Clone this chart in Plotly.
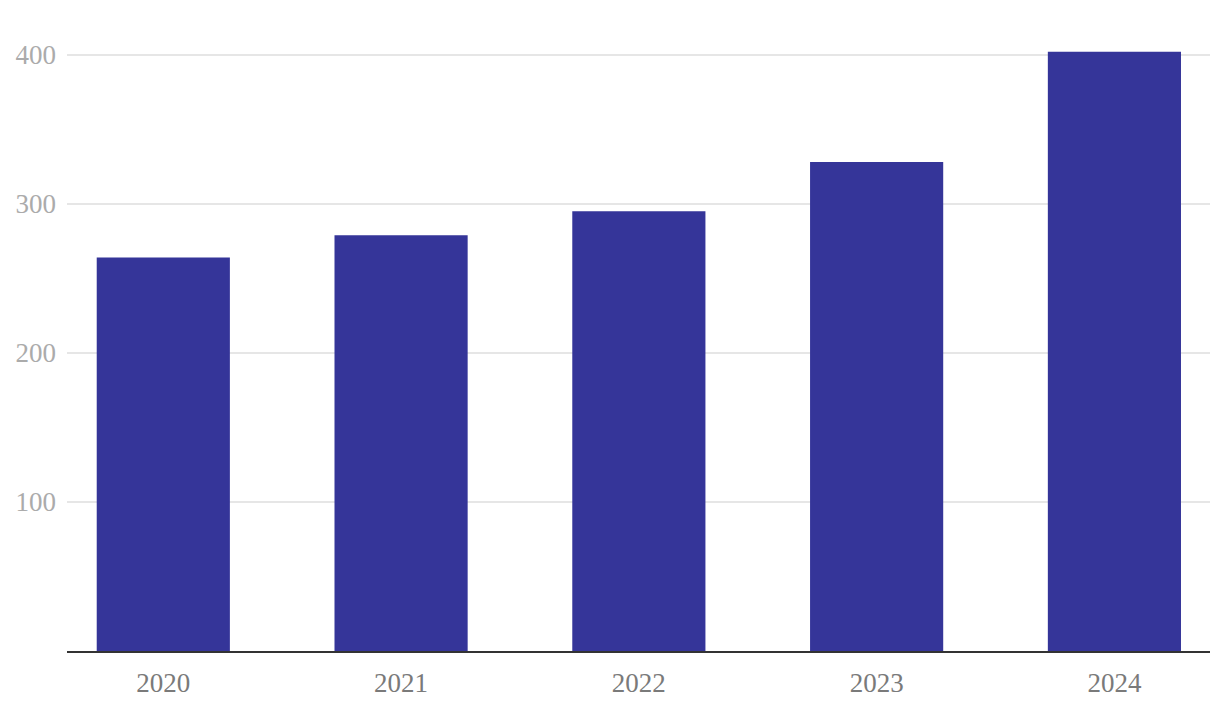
import plotly.graph_objects as go

# Data
years = ["2020", "2021", "2022", "2023", "2024"]
values = [264, 279, 295, 328, 402]
y_ticks = [100, 200, 300, 400]

fig = go.Figure()

fig.add_trace(go.Bar(
    x=years,
    y=values,
    width=0.56,
    marker=dict(color="#353599", line=dict(width=0)),
    hoverinfo="x+y",
))

# margins account for the 8px default body margin of the page
fig.update_layout(
    width=1220,
    height=712,
    margin=dict(l=59, r=18, t=17, b=69),
    plot_bgcolor="white",
    paper_bgcolor="white",
    showlegend=False,
    font=dict(family="Liberation Serif, DejaVu Serif, serif"),
)

fig.update_xaxes(
    range=[-0.405, 4.402],
    automargin=False,
    showline=True,
    linecolor="#333333",
    linewidth=2,
    showgrid=False,
    ticks="",
    ticklabelstandoff=7,
    tickfont=dict(size=27, color="#7a7a7a"),
)

fig.update_yaxes(
    range=[0, 420],
    automargin=False,
    tickvals=y_ticks,
    showgrid=True,
    gridcolor="#e6e6e6",
    gridwidth=1.5,
    zeroline=False,
    showline=False,
    ticks="",
    ticklabelstandoff=10,
    tickfont=dict(size=27, color="#ababab"),
)

fig.write_html("out.html")
